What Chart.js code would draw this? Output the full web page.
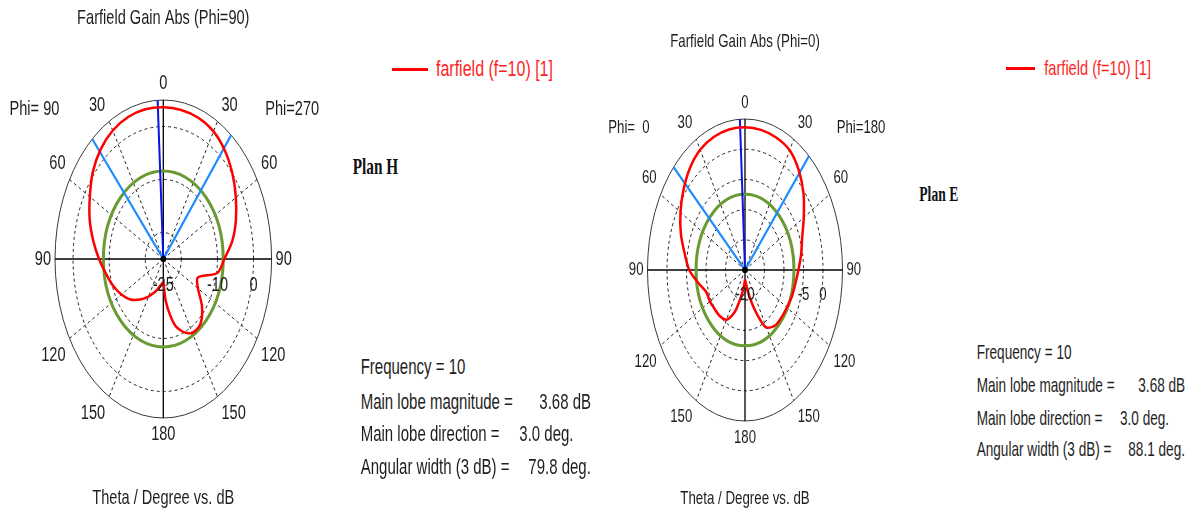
<!DOCTYPE html>
<html>
<head>
<meta charset="utf-8">
<script src="https://cdn.jsdelivr.net/npm/chart.js@4.4.1/dist/chart.umd.min.js"></script>
<style>
  html, body { margin: 0; padding: 0; background: #fff; }
  #page { position: relative; width: 1192px; height: 515px; overflow: hidden;
          font-family: "Liberation Sans", Arial, sans-serif; color: #1e1e1e; }
  canvas { position: absolute; top: 0; }
  .t { position: absolute; white-space: pre; height: 20px; line-height: 20px;
       transform: scaleY(1.43); transform-origin: 0 50%; }
  .plan { font-family: "Liberation Serif", "Times New Roman", serif; font-weight: bold;
          transform: scaleY(1.5); color: #111; }
  .legline { position: absolute; height: 3px; background: #ff0000; }
  .legtext { color: #ff1f1f; }
</style>
</head>
<body>
<div id="page">
  <canvas id="cutH" width="330" height="515" style="left:0"></canvas>
  <canvas id="cutE" width="320" height="515" style="left:590px"></canvas>
</div>
<script>
// theta samples (deg) shared by all four half-cuts
const thetaDeg = [0, 10, 20, 30, 40, 50, 60, 70, 80, 90, 100, 110, 120, 130, 140, 150, 155, 160, 165, 170, 175, 180];

// Plan H : Phi=90 (left half) / Phi=270 (right half), gain in dB
const gainPhi90  = [3.62, 3.68, 3.5, 3.0, 2.0, 0.5, -1.5, -3.3, -5.3, -7.2, -8.9, -10.2, -11.6, -13.1, -15.0, -16.8, -17.7, -18.4, -19.2, -19.8, -20.3, -20.7];
const gainPhi270 = [3.62, 3.55, 3.35, 2.8, 1.6, 0.0, -1.8, -3.6, -5.6, -8.1, -9.8, -14.8, -13.9, -11.0, -9.0, -8.9, -9.6, -10.6, -11.9, -14.3, -17.0, -20.7];

// Plan E : Phi=0 (left half) / Phi=180 (right half), gain in dB
const gainPhi0   = [3.64, 3.62, 3.45, 3.0, 2.0, 0.6, -0.9, -2.5, -4.3, -5.7, -7.8, -9.4, -9.6, -9.9, -10.0, -10.5, -11.5, -12.8, -14.8, -16.3, -17.5, -18.4];
const gainPhi180 = [3.64, 3.55, 3.35, 2.9, 1.5, -0.4, -2.6, -4.4, -5.4, -6.3, -6.9, -7.2, -7.6, -7.8, -8.0, -9.0, -11.0, -13.3, -15.3, -16.9, -17.9, -18.4];

// radial scales (dB) and dashed ring levels
const rangeH = [-25, 5];
const ringsH = [-20, -10, 0];
const ringLabelsH = [-25, -10, 0];
const rangeE = [-20, 5];
const ringsE = [-15, -10, -5, 0];
const ringLabelsE = [-20, -5, 0];

// angular grid
const spokeAngles = [30, 60, 120, 150];
const angleLabels = [0, 30, 60, 90, 120, 150, 180];

// main lobe results (positive angle = left half)
const frequency = 10;
const mainLobeGain = 3.68;
const mainLobeDir = 3.0;
const beamEdgesH = [41.0, -38.8];
const beamEdgesE = [47.1, -41.0];
const levelH = -8.4;   // green reference circle
const levelE = -7.45;

const rad = d => d * Math.PI / 180;

function toXY(theta, db, range) {
  const r = (db - range[0]) / (range[1] - range[0]);
  return { x: -r * Math.sin(rad(theta)), y: r * Math.cos(rad(theta)) };
}

function tallText(ctx, txt, x, y, size, align) {
  ctx.save();
  ctx.font = size + 'px "Liberation Sans", Arial, sans-serif';
  ctx.textAlign = align || 'center';
  ctx.textBaseline = 'middle';
  ctx.fillStyle = '#1e1e1e';
  ctx.translate(x, y);
  ctx.scale(1, 1.43);
  ctx.fillText(txt, 0, 0);
  ctx.restore();
}

const polarGrid = {
  id: 'polarGrid',
  beforeDatasetsDraw(chart, args, o) {
    const { ctx, scales: { x, y } } = chart;
    const cx = x.getPixelForValue(0), cy = y.getPixelForValue(0);
    const rx = x.getPixelForValue(1) - cx, ry = cy - y.getPixelForValue(1);
    const norm = v => (v - o.range[0]) / (o.range[1] - o.range[0]);
    const ring = r => { ctx.beginPath(); ctx.ellipse(cx, cy, rx * r, ry * r, 0, 0, 2 * Math.PI); ctx.stroke(); };
    ctx.save();
    ctx.strokeStyle = '#222';
    ctx.lineWidth = 1;
    ctx.setLineDash([3, 3]);
    o.rings.forEach(v => ring(norm(v)));
    spokeAngles.forEach(a => {
      [-1, 1].forEach(s => {
        ctx.beginPath();
        ctx.moveTo(cx, cy);
        ctx.lineTo(cx + s * rx * Math.sin(rad(a)), cy - ry * Math.cos(rad(a)));
        ctx.stroke();
      });
    });
    ctx.setLineDash([]);
    ctx.strokeStyle = '#3a3a3a';
    ring(1);
    ctx.strokeStyle = '#000';
    ctx.lineWidth = 1.3;
    ctx.beginPath();
    ctx.moveTo(cx - rx, cy); ctx.lineTo(cx + rx, cy);
    ctx.moveTo(cx, cy - ry); ctx.lineTo(cx, cy + ry);
    ctx.stroke();
    ctx.strokeStyle = '#6a9a32';
    ctx.lineWidth = 3;
    ring(norm(o.level));
    ctx.restore();
  },
  afterDatasetsDraw(chart, args, o) {
    const { ctx, scales: { x, y } } = chart;
    const cx = x.getPixelForValue(0), cy = y.getPixelForValue(0);
    const rx = x.getPixelForValue(1) - cx, ry = cy - y.getPixelForValue(1);
    const fs = o.fontSize;
    ctx.save();
    ctx.fillStyle = '#000';
    ctx.beginPath();
    ctx.arc(cx, cy, 3, 0, 2 * Math.PI);
    ctx.fill();
    ctx.restore();

    // theta labels around the rim, both halves
    angleLabels.forEach(a => {
      const sn = Math.sin(rad(a)), cs = Math.cos(rad(a));
      [-1, 1].forEach(s => {
        if ((a === 0 || a === 180) && s === 1) return;
        const px = cx + s * rx * sn, py = cy - ry * cs;
        let tx = px, align = 'center';
        if (sn > 0.01) { align = s < 0 ? 'right' : 'left'; tx = px + s * 4; }
        let ty = py;
        if (cs > 0.01) ty = py - 16.5;
        else if (cs < -0.01) ty = py + 16.5;
        tallText(ctx, String(a), tx, ty, fs, align);
      });
    });

    // dB labels along the axis
    o.ringLabels.forEach(v => {
      const r = (v - o.range[0]) / (o.range[1] - o.range[0]);
      tallText(ctx, String(v), cx + rx * r, cy + o.dbOffset, fs);
    });

    tallText(ctx, o.phiLeft, x.getPixelForValue(-1.19), y.getPixelForValue(0.94), fs);
    tallText(ctx, o.phiRight, x.getPixelForValue(1.19), y.getPixelForValue(0.94), fs);
    tallText(ctx, o.title, cx, o.titleY, o.titleSize);
    tallText(ctx, 'Theta / Degree vs. dB', cx, 498.3, o.titleSize);
  }
};

function makeCut(id, left, right, range, beam, grid, pad) {
  const pattern = [];
  for (let i = thetaDeg.length - 1; i >= 0; i--) pattern.push(toXY(-thetaDeg[i], right[i], range));
  for (let i = 1; i < thetaDeg.length; i++) pattern.push(toXY(thetaDeg[i], left[i], range));
  const origin = { x: 0, y: 0 };
  return new Chart(document.getElementById(id), {
    type: 'scatter',
    data: {
      datasets: [
        { label: 'farfield (f=10) [1]', data: pattern, showLine: true, borderColor: '#ff0000',
          borderWidth: 2.5, pointRadius: 0, tension: 0.3, order: 0, clip: false },
        { label: 'main lobe', data: [origin, toXY(mainLobeDir, range[1], range)], showLine: true,
          borderColor: '#0a12e6', borderWidth: 2, pointRadius: 0, order: 1, clip: false },
        { label: '3 dB width', data: [toXY(beam[0], range[1], range), origin, toXY(beam[1], range[1], range)],
          showLine: true, borderColor: '#1e8cff', borderWidth: 2.2, pointRadius: 0, order: 2, clip: false }
      ]
    },
    options: {
      responsive: false,
      animation: false,
      events: [],
      layout: { padding: pad },
      scales: {
        x: { type: 'linear', min: -1, max: 1, display: false },
        y: { type: 'linear', min: -1, max: 1, display: false }
      },
      plugins: { legend: { display: false }, tooltip: { enabled: false }, polarGrid: grid }
    },
    plugins: [polarGrid]
  });
}

makeCut('cutH', gainPhi90, gainPhi270, rangeH, beamEdgesH,
  { range: rangeH, rings: ringsH, ringLabels: ringLabelsH, level: levelH, fontSize: 14.6, titleSize: 14.6,
    dbOffset: 26, phiLeft: 'Phi= 90', phiRight: 'Phi=270', title: 'Farfield Gain Abs (Phi=90)', titleY: 18.3 },
  { left: 55, right: 58.4, top: 100, bottom: 97 });

makeCut('cutE', gainPhi0, gainPhi180, rangeE, beamEdgesE,
  { range: rangeE, rings: ringsE, ringLabels: ringLabelsE, level: levelE, fontSize: 13.2, titleSize: 13.3,
    dbOffset: 25, phiLeft: 'Phi=  0', phiRight: 'Phi=180', title: 'Farfield Gain Abs (Phi=0)', titleY: 41.7 },
  { left: 57.5, right: 67.5, top: 119, bottom: 94 });

// legend, plane names and main lobe summaries
const page = document.getElementById('page');
function addText(txt, left, cy, size, cls) {
  const d = document.createElement('div');
  d.className = 't' + (cls ? ' ' + cls : '');
  d.textContent = txt;
  d.style.left = left + 'px';
  d.style.top = (cy - 10) + 'px';
  d.style.fontSize = size + 'px';
  page.appendChild(d);
}
function addLegend(x0, x1, cy, tx, size) {
  const l = document.createElement('div');
  l.className = 'legline';
  l.style.left = x0 + 'px';
  l.style.width = (x1 - x0) + 'px';
  l.style.top = (cy - 1.5) + 'px';
  page.appendChild(l);
  addText('farfield (f=' + frequency + ') [1]', tx, cy, size, 'legtext');
}
function addSummary(x, vx, ys, size, beam) {
  addText('Frequency = ' + frequency, x, ys[0], size);
  addText('Main lobe magnitude =', x, ys[1], size);
  addText(mainLobeGain.toFixed(2) + ' dB', vx[0], ys[1], size);
  addText('Main lobe direction =', x, ys[2], size);
  addText(mainLobeDir.toFixed(1) + ' deg.', vx[1], ys[2], size);
  addText('Angular width (3 dB) =', x, ys[3], size);
  addText((beam[0] - beam[1]).toFixed(1) + ' deg.', vx[2], ys[3], size);
}

addLegend(392, 428, 69, 436, 16);
addLegend(1006, 1035, 68.3, 1044.3, 14.6);
addText('Plan H', 352.7, 166, 15.3, 'plan');
addText('Plan E', 919.3, 195, 13.6, 'plan');
addSummary(360.7, [539.3, 519.3, 528.3], [367.3, 401.7, 434.3, 466.7], 15, beamEdgesH);
addSummary(976.7, [1138.3, 1120, 1128.3], [353.3, 385.7, 419, 450], 13.6, beamEdgesE);
</script>
</body>
</html>
